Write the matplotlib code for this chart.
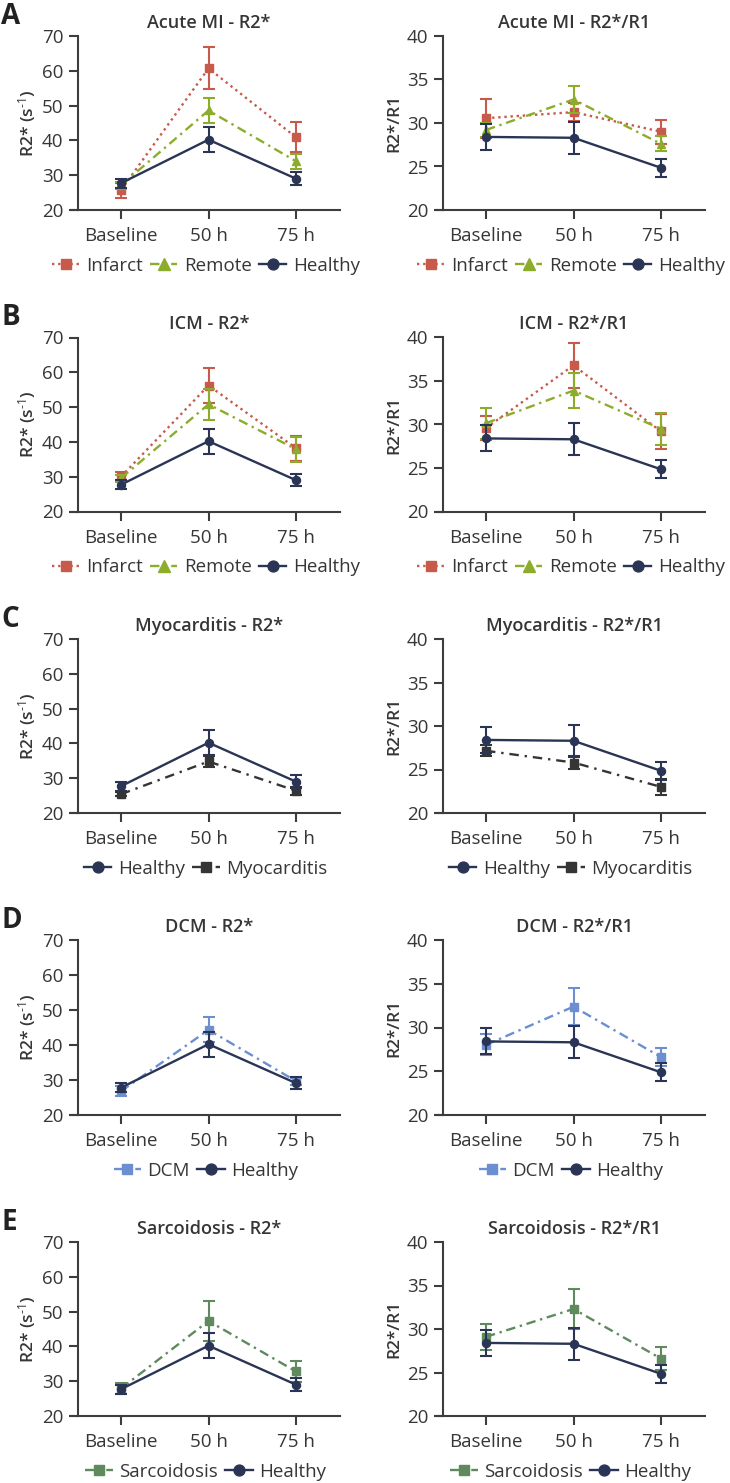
import matplotlib
matplotlib.use("Agg")
import matplotlib.pyplot as plt

plt.rcParams['font.family'] = ['Open Sans', 'DejaVu Sans']
plt.rcParams['mathtext.fontset'] = 'custom'
plt.rcParams['mathtext.rm'] = 'Open Sans'
plt.rcParams['mathtext.it'] = 'Open Sans'
plt.rcParams['mathtext.bf'] = 'Open Sans:semibold'

# ---------------- data ----------------
categories = ['Baseline', '50 h', '75 h']

healthy_r2 = [27.7, 40.2, 29.0]
healthy_r2_err = [1.3, 3.6, 1.8]
healthy_ratio = [28.4, 28.3, 24.85]
healthy_ratio_err = [1.5, 1.85, 1.05]

ami_infarct_r2 = [25.7, 60.7, 40.9]
ami_infarct_r2_err = [2.2, 6.0, 4.3]
ami_remote_r2 = [27.1, 48.6, 34.0]
ami_remote_r2_err = [1.0, 3.7, 2.2]
ami_infarct_ratio = [30.55, 31.25, 29.0]
ami_infarct_ratio_err = [2.25, 1.0, 1.4]
ami_remote_ratio = [29.2, 32.7, 27.6]
ami_remote_ratio_err = [0.8, 1.5, 0.85]

icm_infarct_r2 = [30.0, 56.2, 38.2]
icm_infarct_r2_err = [1.3, 5.0, 3.6]
icm_remote_r2 = [29.6, 50.8, 37.9]
icm_remote_r2_err = [1.0, 4.4, 3.6]
icm_infarct_ratio = [29.6, 36.8, 29.2]
icm_infarct_ratio_err = [1.4, 2.6, 2.05]
icm_remote_ratio = [30.15, 33.9, 29.5]
icm_remote_ratio_err = [1.8, 2.0, 1.85]

myo_r2 = [25.4, 34.8, 26.4]
myo_r2_err = [0.6, 1.7, 1.1]
myo_ratio = [27.15, 25.8, 23.0]
myo_ratio_err = [0.65, 0.75, 0.95]

dcm_r2 = [26.7, 44.3, 29.6]
dcm_r2_err = [1.4, 3.6, 1.0]
dcm_ratio = [28.0, 32.4, 26.6]
dcm_ratio_err = [1.2, 2.1, 1.0]

sarc_r2 = [27.9, 47.3, 32.8]
sarc_r2_err = [1.7, 5.7, 2.9]
sarc_ratio = [29.1, 32.3, 26.6]
sarc_ratio_err = [1.5, 2.25, 1.35]

panel_letters = ['A', 'B', 'C', 'D', 'E']
panel_names = ['Acute MI', 'ICM', 'Myocarditis', 'DCM', 'Sarcoidosis']

# ---------------- styles ----------------
C_INF = '#c85a4c'
C_REM = '#8cad2c'
C_HEA = '#2a3556'
C_MYO = '#353535'
C_DCM = '#6b8fd0'
C_SAR = '#5f8a5e'
TXT = '#363636'
SPINE = '#3d3d3d'

sty = {
    'Infarct': dict(color=C_INF, marker='s', ls=(0, (1, 1.6)), ms=5.4),
    'Remote': dict(color=C_REM, marker='^', ls=(0, (4, 2, 1, 2)), ms=6.0),
    'Healthy': dict(color=C_HEA, marker='o', ls='-', ms=5.8),
    'Myocarditis': dict(color=C_MYO, marker='s', ls=(0, (4, 2.5, 1, 2.5)), ms=5.4),
    'DCM': dict(color=C_DCM, marker='s', ls=(0, (4, 2, 1, 2)), ms=5.4),
    'Sarcoidosis': dict(color=C_SAR, marker='s', ls=(0, (4, 2, 1, 2)), ms=5.4),
}

rows = [
    ([('Infarct', ami_infarct_r2, ami_infarct_r2_err), ('Remote', ami_remote_r2, ami_remote_r2_err), ('Healthy', healthy_r2, healthy_r2_err)],
     [('Infarct', ami_infarct_ratio, ami_infarct_ratio_err), ('Remote', ami_remote_ratio, ami_remote_ratio_err), ('Healthy', healthy_ratio, healthy_ratio_err)]),
    ([('Infarct', icm_infarct_r2, icm_infarct_r2_err), ('Remote', icm_remote_r2, icm_remote_r2_err), ('Healthy', healthy_r2, healthy_r2_err)],
     [('Infarct', icm_infarct_ratio, icm_infarct_ratio_err), ('Remote', icm_remote_ratio, icm_remote_ratio_err), ('Healthy', healthy_ratio, healthy_ratio_err)]),
    ([('Healthy', healthy_r2, healthy_r2_err), ('Myocarditis', myo_r2, myo_r2_err)],
     [('Healthy', healthy_ratio, healthy_ratio_err), ('Myocarditis', myo_ratio, myo_ratio_err)]),
    ([('DCM', dcm_r2, dcm_r2_err), ('Healthy', healthy_r2, healthy_r2_err)],
     [('DCM', dcm_ratio, dcm_ratio_err), ('Healthy', healthy_ratio, healthy_ratio_err)]),
    ([('Sarcoidosis', sarc_r2, sarc_r2_err), ('Healthy', healthy_r2, healthy_r2_err)],
     [('Sarcoidosis', sarc_ratio, sarc_ratio_err), ('Healthy', healthy_ratio, healthy_ratio_err)]),
]

W, H = 730, 1483
fig = plt.figure(figsize=(W / 100, H / 100), dpi=100)

ax_w = 262
ax_h = 174
lefts = [78, 443]
x = list(range(len(categories)))


def setup(ax, ylim, yticks, ylabel):
    ax.set_xlim(-43 / 87.5, 2 + 44 / 87.5)
    ax.set_ylim(*ylim)
    ax.set_yticks(yticks)
    ax.set_xticks(x)
    ax.set_xticklabels(categories)
    for s in ['top', 'right']:
        ax.spines[s].set_visible(False)
    for s in ['left', 'bottom']:
        ax.spines[s].set_color(SPINE)
        ax.spines[s].set_linewidth(1.5)
    ax.tick_params(axis='both', colors=SPINE, labelcolor=TXT, labelsize=13.5,
                   width=1.5, length=6.5)
    ax.tick_params(axis='y', pad=4)
    ax.tick_params(axis='x', pad=6)
    ax.set_ylabel(ylabel, fontsize=12.5, fontweight='semibold', color=TXT, labelpad=3)
    # x-axis line extends left under the y tick marks
    ax.plot([-8 / ax_w, 0], [0, 0], transform=ax.transAxes, clip_on=False,
            color=SPINE, lw=1.5, solid_capstyle='butt')


for r, (left_series, right_series) in enumerate(rows):
    top = 36 + 301.5 * r
    bottom_px = top + ax_h
    for c, series in enumerate([left_series, right_series]):
        x0 = lefts[c]
        ax = fig.add_axes([x0 / W, 1 - bottom_px / H, ax_w / W, ax_h / H])
        if c == 0:
            setup(ax, (20, 70), range(20, 71, 10), 'R2* (s$^{\\mathbf{\\text{-1}}}$)')
            ax.set_title(f'{panel_names[r]} - R2*', fontsize=13, fontweight='semibold',
                         color=TXT, pad=6)
        else:
            setup(ax, (20, 40), range(20, 41, 5), 'R2*/R1')
            ax.set_title(f'{panel_names[r]} - R2*/R1', fontsize=13, fontweight='semibold',
                         color=TXT, pad=6)
        handles = {}
        order = [s for s in series if s[0] != 'Healthy'] + [s for s in series if s[0] == 'Healthy']
        for z, (name, vals, errs) in enumerate(order):
            st = sty[name]
            ax.errorbar(x, vals, yerr=errs, fmt='none', ecolor=st['color'], elinewidth=1.5,
                        capsize=4.5, capthick=1.5, zorder=3 + z, clip_on=False)
            ln, = ax.plot(x, vals, color=st['color'], ls=st['ls'], lw=1.7, marker=st['marker'],
                          ms=st['ms'], mec=st['color'], mfc=st['color'], zorder=3.5 + z,
                          clip_on=False, label=name)
            handles[name] = ln
        hl = [handles[s[0]] for s in series]
        ax.legend(hl, [s[0] for s in series], loc='center', bbox_to_anchor=(0.488, -56 / ax_h),
                  ncol=len(series), frameon=False, fontsize=13.5, handlelength=1.45,
                  handletextpad=0.35, columnspacing=0.4, markerscale=1.35, numpoints=1,
                  labelcolor=TXT, borderaxespad=0, borderpad=0)
    fig.text(1 / W, 1 - (top - 20) / H, panel_letters[r], fontsize=20, fontweight='bold',
             color='#222222', ha='left', va='center')

fig.savefig('out.png', dpi=100, facecolor='white')
